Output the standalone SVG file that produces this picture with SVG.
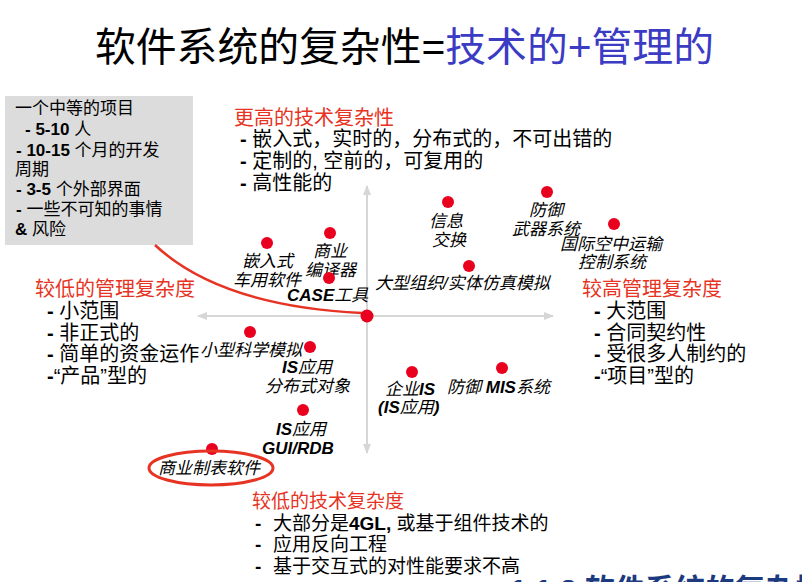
<svg xmlns="http://www.w3.org/2000/svg" width="802" height="582" viewBox="0 0 802 582">
<defs>
<marker id="ah" viewBox="0 0 10 10" refX="9" refY="5" markerWidth="5" markerHeight="5" orient="auto" markerUnits="strokeWidth">
<path d="M0,1 L10,5 L0,9 z" fill="#d6d6d6"/>
</marker>
</defs>
<style>
text{font-family:"Liberation Sans","Noto Sans CJK SC",sans-serif;fill:#000}
.t{font-size:40px}
.blue{fill:#3b3bc4}
.red{fill:#e63323}
.h{font-size:20px}
.bx{font-size:17px}
.lb{font-size:17px;font-style:italic}
.b{font-weight:bold}
.dot{fill:#e8001e}
.axis{stroke:#d6d6d6;stroke-width:2;fill:none;marker-end:url(#ah)}
</style>
<rect width="802" height="582" fill="#fff"/>
<g id="title"><text class="t" x="95" y="61" textLength="619" lengthAdjust="spacingAndGlyphs">软件系统的复杂性=<tspan class="blue">技术的+管理的</tspan></text></g>
<g id="project-box">
<rect x="5" y="96" width="188" height="149" fill="#dcdcdc"/>
<text class="bx" x="15" y="114">一个中等的项目</text>
<text class="bx" x="25" y="135"><tspan class="b">- 5-10</tspan> 人</text>
<text class="bx" x="16" y="156"><tspan class="b">- 10-15</tspan> 个月的开发</text>
<text class="bx" x="15" y="175">周期</text>
<text class="bx" x="16" y="195"><tspan class="b">- 3-5</tspan> 个外部界面</text>
<text class="bx" x="16" y="215"><tspan class="b">-</tspan> 一些不可知的事情</text>
<text class="bx" x="15" y="235"><tspan class="b">&amp;</tspan> 风险</text>
</g>
<g id="connectors">
<line class="axis" x1="367" y1="316" x2="367" y2="186"/>
<line class="axis" x1="367" y1="316" x2="367" y2="453"/>
<line class="axis" x1="367" y1="316" x2="198" y2="316"/>
<line class="axis" x1="367" y1="316" x2="553" y2="316"/>
<path d="M155,245 Q220,306 362,313" fill="none" stroke="#e63323" stroke-width="2.5"/>
</g>
<g id="high-tech">
<text class="h red" x="234" y="125">更高的技术复杂性</text>
<text class="h" x="240" y="146"><tspan class="b">-</tspan> 嵌入式，实时的，分布式的，不可出错的</text>
<text class="h" x="240" y="168"><tspan class="b">-</tspan> 定制的, 空前的，可复用的</text>
<text class="h" x="240" y="190"><tspan class="b">-</tspan> 高性能的</text>
</g>
<g id="low-mgmt">
<text class="h red" x="35" y="296">较低的管理复杂度</text>
<text class="h" x="47" y="318"><tspan class="b">-</tspan> 小范围</text>
<text class="h" x="47" y="340"><tspan class="b">-</tspan> 非正式的</text>
<text class="h" x="47" y="361"><tspan class="b">-</tspan> 简单的资金运作</text>
<text class="h" x="47" y="383"><tspan class="b">-</tspan>“产品”型的</text>
</g>
<g id="high-mgmt">
<text class="h red" x="582" y="296">较高管理复杂度</text>
<text class="h" x="594" y="318"><tspan class="b">-</tspan> 大范围</text>
<text class="h" x="594" y="340"><tspan class="b">-</tspan> 合同契约性</text>
<text class="h" x="594" y="361"><tspan class="b">-</tspan> 受很多人制约的</text>
<text class="h" x="594" y="383"><tspan class="b">-</tspan>“项目”型的</text>
</g>
<g id="low-tech">
<text class="red" style="font-size:19px" x="252" y="508">较低的技术复杂度</text>
<text style="font-size:19px" x="255" y="530"><tspan class="b">-</tspan><tspan x="273">大部分是</tspan><tspan class="b">4GL,</tspan> 或基于组件技术的</text>
<text style="font-size:19px" x="255" y="551"><tspan class="b">-</tspan><tspan x="273">应用反向工程</tspan></text>
<text style="font-size:19px" x="255" y="573"><tspan class="b">-</tspan><tspan x="273">基于交互式的对性能要求不高</tspan></text>
</g>
<g id="footer"><text x="510" y="600" style="font-size:30px;font-weight:bold;fill:#1c3a80">1.1.2  软件系统的复杂性</text></g>
<g id="embedded"><circle class="dot" cx="267" cy="243" r="6"/><text class="lb" x="242" y="267">嵌入式</text><text class="lb" x="233" y="286">车用软件</text></g>
<g id="compiler"><circle class="dot" cx="330" cy="233" r="6"/><text class="lb" x="313" y="257">商业</text><text class="lb" x="305" y="276">编译器</text></g>
<g id="case"><circle class="dot" cx="329" cy="278" r="6"/><text class="lb" x="287" y="301"><tspan class="b">CASE</tspan>工具</text></g>
<g id="info"><circle class="dot" cx="448" cy="202" r="6"/><text class="lb" x="429" y="227">信息</text><text class="lb" x="432" y="246">交换</text></g>
<g id="weapon"><circle class="dot" cx="547" cy="192" r="6"/><text class="lb" x="529" y="216">防御</text><text class="lb" x="512" y="235">武器系统</text></g>
<g id="atc"><circle class="dot" cx="614" cy="224" r="6"/><text class="lb" x="560" y="250">国际空中运输</text><text class="lb" x="578" y="268">控制系统</text></g>
<g id="large-sim"><circle class="dot" cx="469" cy="266" r="6"/><text class="lb" x="375" y="289">大型组织/实体仿真模拟</text></g>
<g id="origin"><circle class="dot" cx="367" cy="316" r="6.5"/></g>
<g id="small-sim"><circle class="dot" cx="250" cy="332" r="6"/><text class="lb" x="200" y="356">小型科学模拟</text></g>
<g id="is-dist"><circle class="dot" cx="310" cy="347" r="6"/><text class="lb" x="282" y="373"><tspan class="b">IS</tspan>应用</text><text class="lb" x="265" y="392">分布式对象</text></g>
<g id="is-gui"><circle class="dot" cx="303" cy="410" r="6"/><text class="lb" x="276" y="435"><tspan class="b">IS</tspan>应用</text><text class="lb b" x="262" y="454">GUI/RDB</text></g>
<g id="enterprise"><circle class="dot" cx="412" cy="372" r="6"/><text class="lb" x="385" y="395">企业<tspan class="b">IS</tspan></text><text class="lb" x="378" y="413"><tspan class="b">(IS</tspan>应用<tspan class="b">)</tspan></text></g>
<g id="mis"><circle class="dot" cx="502" cy="368" r="6"/><text class="lb" x="447" y="393">防御 <tspan class="b">MIS</tspan>系统</text></g>
<g id="spreadsheet"><circle class="dot" cx="212" cy="449" r="6"/><ellipse cx="211" cy="468" rx="62" ry="17" fill="none" stroke="#e63323" stroke-width="3"/><text class="lb" x="158" y="474">商业制表软件</text></g>
</svg>
